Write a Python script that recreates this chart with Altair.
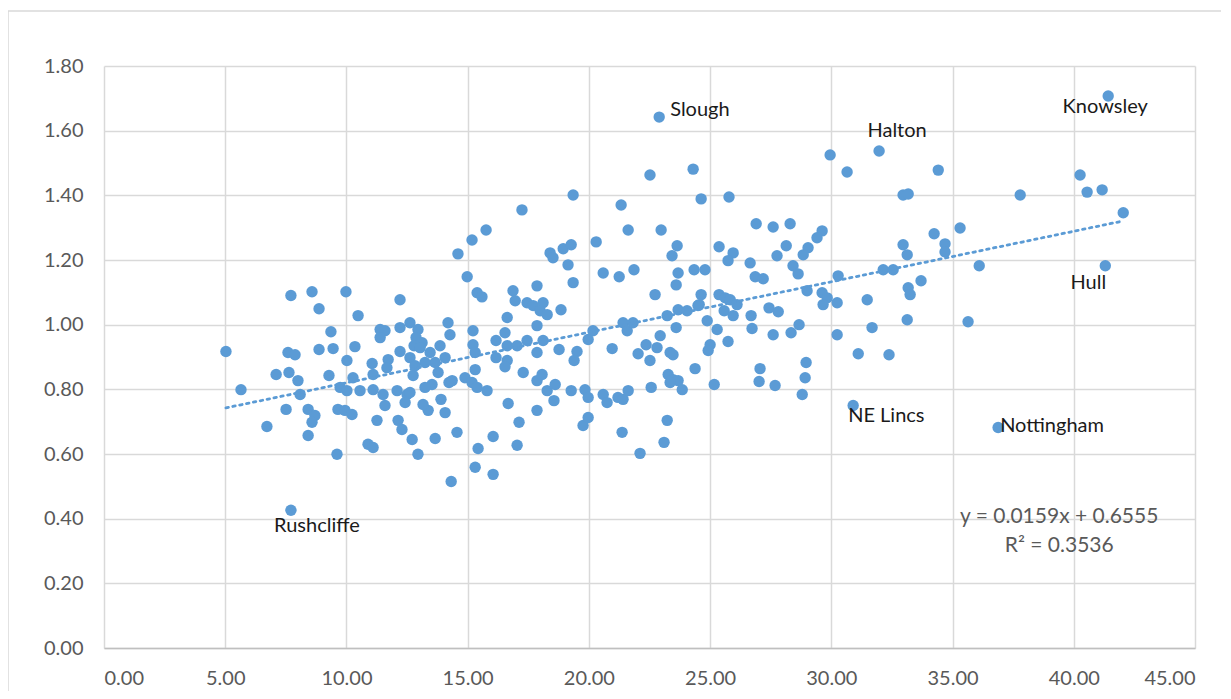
import altair as alt
import pandas as pd

# ---- data ----
x_vals = [
    7.71, 8.58, 8.87, 9.98, 10.48, 12.21, 9.36, 5.03, 7.59, 7.88, 8.87, 9.45, 10.35, 10.02, 11.06,
    11.39, 11.59, 11.39, 12.21, 12.62, 12.21, 12.62, 11.72,
    7.10, 7.63, 8.00, 9.28, 5.65, 8.09, 7.51, 6.72, 8.42, 8.70, 8.58, 8.42, 9.61, 7.71, 9.74, 10.02,
    9.65, 9.94, 10.23, 11.26, 12.13, 12.29, 12.71, 10.89, 11.10, 10.27, 11.10, 11.67, 10.56, 11.10,
    11.51, 12.09, 12.50, 11.59, 12.42, 12.95,
    19.35, 17.24, 15.76, 15.18, 14.60, 21.33, 21.62, 20.30, 18.40, 18.52, 18.94, 19.27, 19.14, 20.59,
    21.25, 19.35, 14.98, 15.39, 15.59, 17.86, 16.87, 16.96, 17.45, 17.70, 18.11, 17.99, 18.28, 18.85,
    16.63, 17.86, 14.19, 14.27, 15.22, 16.54, 16.17, 17.45, 18.11, 20.17, 19.97, 21.41, 21.58,
    12.95, 12.87, 13.12, 12.79,
    15.22, 15.31, 16.63, 17.04, 17.86, 18.77, 19.51, 19.39, 20.96, 16.17, 16.63, 16.54, 17.29, 15.31,
    14.89, 15.18, 15.39, 15.80, 17.86, 18.07, 18.28, 18.61, 18.56, 19.27, 19.84, 19.97, 20.59, 20.75,
    21.20, 21.41, 16.67, 17.86, 17.12, 19.76, 19.97, 21.37, 16.05, 17.04, 15.43, 15.31, 16.05, 14.32,
    14.56, 13.66, 14.07, 13.37, 13.16, 13.90, 14.23, 14.36, 13.78, 13.53, 13.24, 12.75, 12.62,
    13.04, 13.45, 13.86, 14.07, 13.66, 13.24, 12.83,
    22.90, 22.52, 24.30, 24.63, 25.78, 22.98, 26.90, 27.60, 28.30, 29.62, 29.41, 23.64, 25.37,
    28.14, 29.04,
    23.43, 25.95, 25.74, 26.65, 27.76, 28.84, 21.86, 23.68, 23.60, 24.34, 24.79, 28.42, 28.63, 26.86,
    27.19, 22.73, 24.63, 24.55, 25.37, 25.62, 25.83, 26.11, 25.58, 25.95, 27.43, 27.81, 26.69, 29.00,
    29.62, 29.83, 29.66, 30.28, 30.24, 23.68, 24.05, 23.23, 24.50, 21.82, 23.60, 24.88, 25.29, 26.73,
    27.60, 28.34, 28.67, 30.24, 22.94, 22.36, 22.81, 22.03, 22.52, 25.00, 24.92, 25.74, 23.35, 23.47,
    24.38, 27.06, 27.02, 28.96, 28.92, 28.80, 27.68, 25.17, 23.27, 23.47, 23.68, 23.35, 23.85, 22.57,
    21.62, 23.23, 23.10, 22.11,
    31.97, 29.95, 30.65, 34.41, 32.96, 33.17, 37.79, 34.24, 35.31, 34.69, 32.96,
    33.13, 34.69, 36.10, 32.14, 32.55, 33.70, 33.17, 33.25, 31.48, 33.13, 35.64, 31.68, 31.11, 32.38,
    30.90, 36.88,
    41.42, 40.26, 40.55, 41.17, 42.04, 41.30,
]
y_vals = [
    1.090, 1.102, 1.049, 1.102, 1.028, 1.077, 0.978, 0.917, 0.914, 0.907, 0.923, 0.926, 0.932, 0.889, 0.880,
    0.985, 0.981, 0.960, 0.991, 1.006, 0.917, 0.898, 0.892,
    0.846, 0.852, 0.827, 0.843, 0.799, 0.784, 0.738, 0.685, 0.738, 0.719, 0.698, 0.657, 0.599, 0.426, 0.806, 0.796,
    0.738, 0.735, 0.722, 0.704, 0.704, 0.676, 0.645, 0.630, 0.620, 0.836, 0.846, 0.867, 0.796, 0.799,
    0.784, 0.796, 0.784, 0.750, 0.759, 0.599,
    1.401, 1.355, 1.293, 1.262, 1.219, 1.370, 1.293, 1.256, 1.222, 1.207, 1.235, 1.247, 1.185, 1.160,
    1.148, 1.130, 1.148, 1.099, 1.086, 1.120, 1.105, 1.074, 1.068, 1.059, 1.068, 1.043, 1.031, 1.046,
    1.022, 0.997, 1.006, 0.969, 0.981, 0.975, 0.951, 0.951, 0.951, 0.981, 0.954, 1.006, 0.981,
    0.985, 0.960, 0.944, 0.935,
    0.938, 0.914, 0.935, 0.935, 0.914, 0.923, 0.917, 0.889, 0.926, 0.898, 0.889, 0.870, 0.852, 0.861,
    0.836, 0.821, 0.806, 0.796, 0.827, 0.846, 0.796, 0.815, 0.765, 0.796, 0.799, 0.775, 0.784, 0.759,
    0.775, 0.769, 0.756, 0.735, 0.698, 0.688, 0.713, 0.667, 0.654, 0.627, 0.617, 0.559, 0.537, 0.515,
    0.667, 0.648, 0.728, 0.735, 0.753, 0.769, 0.821, 0.827, 0.852, 0.815, 0.806, 0.843, 0.790,
    0.929, 0.914, 0.935, 0.898, 0.883, 0.883, 0.873,
    1.642, 1.463, 1.481, 1.389, 1.395, 1.293, 1.312, 1.302, 1.312, 1.290, 1.269, 1.244, 1.241,
    1.244, 1.238,
    1.213, 1.222, 1.198, 1.191, 1.213, 1.216, 1.170, 1.160, 1.123, 1.170, 1.170, 1.182, 1.157, 1.148,
    1.142, 1.093, 1.093, 1.062, 1.093, 1.083, 1.077, 1.062, 1.043, 1.028, 1.052, 1.040, 1.028, 1.105,
    1.099, 1.083, 1.062, 1.151, 1.068, 1.046, 1.043, 1.028, 1.059, 1.006, 0.991, 1.012, 0.985, 0.988,
    0.969, 0.975, 1.000, 0.969, 0.966, 0.938, 0.929, 0.910, 0.889, 0.938, 0.920, 0.948, 0.914, 0.907,
    0.864, 0.864, 0.824, 0.883, 0.836, 0.784, 0.812, 0.815, 0.846, 0.830, 0.827, 0.821, 0.799, 0.806,
    0.796, 0.704, 0.636, 0.602,
    1.537, 1.525, 1.472, 1.478, 1.401, 1.404, 1.401, 1.281, 1.299, 1.250, 1.247,
    1.216, 1.225, 1.182, 1.170, 1.170, 1.136, 1.114, 1.093, 1.077, 1.015, 1.009, 0.991, 0.910, 0.907,
    0.750, 0.682,
    1.707, 1.463, 1.410, 1.417, 1.346, 1.182,
]

label_names = ["Slough", "Halton", "Knowsley", "Hull", "NE Lincs", "Nottingham", "Rushcliffe"]
label_x = [22.90, 31.97, 41.42, 41.30, 30.90, 36.88, 7.71]
label_y = [1.642, 1.537, 1.707, 1.182, 0.750, 0.682, 0.426]

x_ticks = [0, 5, 10, 15, 20, 25, 30, 35, 40, 45]
y_ticks = [0.0, 0.2, 0.4, 0.6, 0.8, 1.0, 1.2, 1.4, 1.6, 1.8]
equation_lines = ["y = 0.0159x + 0.6555", "R² = 0.3536"]

df = pd.DataFrame({"x": x_vals, "y": y_vals})
labels_df = pd.DataFrame({"name": label_names, "x": label_x, "y": label_y})

FONT = "Lato"
BLUE = "#5B9BD5"
GRAY_TXT = "#595959"

xscale = alt.Scale(domain=[0, 45], nice=False, zero=False)
yscale = alt.Scale(domain=[0, 1.8], nice=False, zero=False)

xaxis = alt.Axis(values=x_ticks, format=".2f", title=None, grid=True, gridColor="#D9D9D9",
                 gridWidth=1.5, domainColor="#BFBFBF", domainWidth=1.5, ticks=False,
                 labelFont=FONT, labelFontSize=20, labelColor=GRAY_TXT, labelPadding=20)
yaxis = alt.Axis(values=y_ticks, format=".2f", title=None, grid=True, gridColor="#D9D9D9",
                 gridWidth=1.5, domain=False, ticks=False,
                 labelFont=FONT, labelFontSize=20, labelColor=GRAY_TXT, labelPadding=21)

base = alt.Chart(df)

# outer chart-area border (decorative frame)
frame = alt.Chart(df.head(1)).mark_rect(fill=None, stroke="#D9D9D9", strokeWidth=1.5).encode(
    x=alt.value(-96), x2=alt.value(1122), y=alt.value(-55), y2=alt.value(700)
)

points = base.mark_circle(size=130, color=BLUE, opacity=1).encode(
    x=alt.X("x:Q", scale=xscale, axis=xaxis),
    y=alt.Y("y:Q", scale=yscale, axis=yaxis),
)

trend = base.transform_regression("x", "y").mark_line(
    color=BLUE, strokeWidth=2.8, strokeDash=[2.5, 4.5], strokeCap="round"
).encode(x=alt.X("x:Q", scale=xscale), y=alt.Y("y:Q", scale=yscale))

label_style = {
    "Slough": dict(align="left", dx=11, dy=-7),
    "Halton": dict(align="center", dx=18, dy=-20),
    "Knowsley": dict(align="center", dx=-3, dy=11),
    "Hull": dict(align="center", dx=-17, dy=17),
    "NE Lincs": dict(align="left", dx=-5, dy=10),
    "Nottingham": dict(align="left", dx=2, dy=-1),
    "Rushcliffe": dict(align="center", dx=26, dy=16),
}

label_layers = []
for nm in label_names:
    st = label_style[nm]
    label_layers.append(
        alt.Chart(labels_df).transform_filter(alt.datum.name == nm).mark_text(
            font=FONT, fontSize=20, color="#1a1a1a", baseline="middle", **st
        ).encode(x=alt.X("x:Q", scale=xscale), y=alt.Y("y:Q", scale=yscale), text="name:N")
    )

eq1 = alt.Chart(df.head(1)).mark_text(font=FONT, fontSize=21, color=GRAY_TXT, align="center",
                                      baseline="middle").encode(
    x=alt.datum(39.4), y=alt.datum(0.404), text=alt.value(equation_lines[0]))
eq2 = alt.Chart(df.head(1)).mark_text(font=FONT, fontSize=21, color=GRAY_TXT, align="center",
                                      baseline="middle").encode(
    x=alt.datum(39.4), y=alt.datum(0.315), text=alt.value(equation_lines[1]))

chart = alt.layer(frame, points, trend, *label_layers, eq1, eq2).properties(
    width=1091, height=582,
    autosize=alt.AutoSizeParams(type="none"),
    padding={"left": 96, "top": 58, "right": 26, "bottom": 43},
    background="white",
).configure_view(strokeWidth=0)

chart.save("out.html", embed_options={"renderer": "svg", "actions": False})
